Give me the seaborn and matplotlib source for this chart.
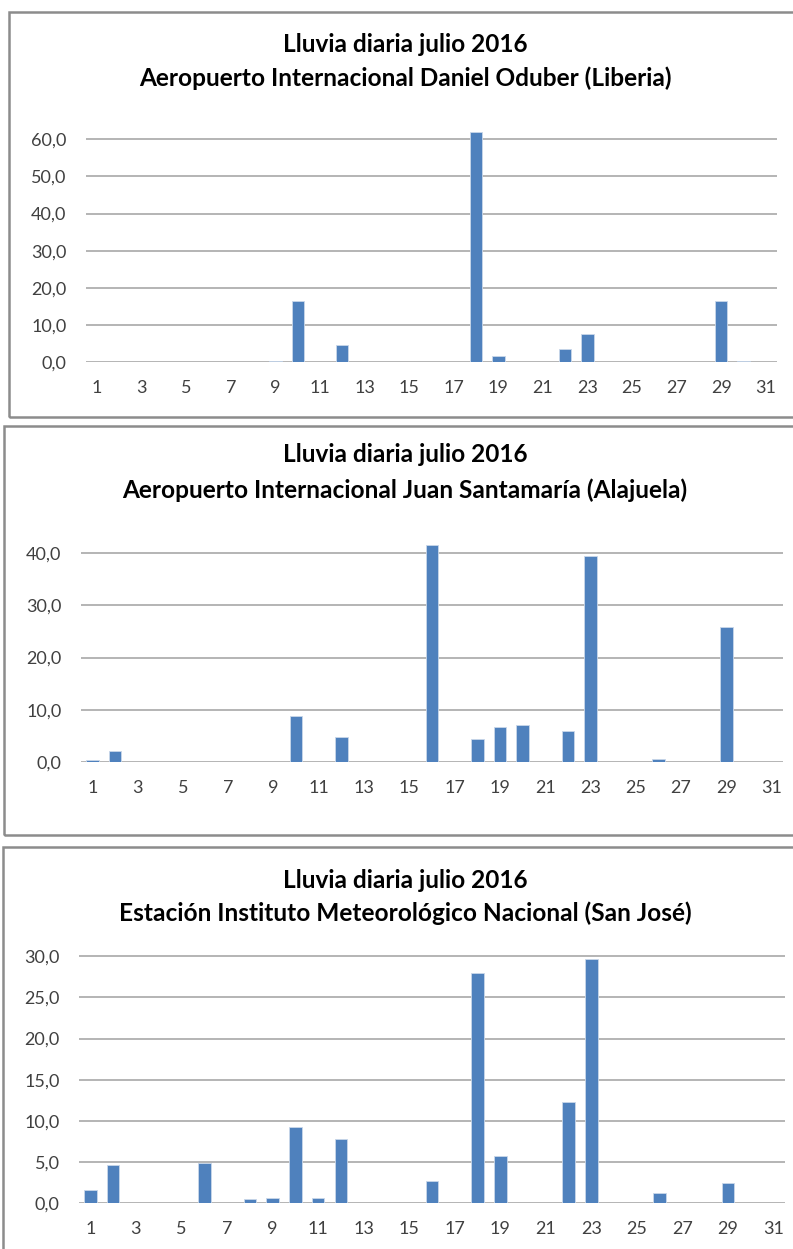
import matplotlib
matplotlib.use("Agg")
import matplotlib.pyplot as plt
import seaborn as sns
import pandas as pd
from matplotlib.patches import Rectangle

days = [str(d) for d in range(1, 32)]
odd_labels = [str(d) if d % 2 == 1 else "" for d in range(1, 32)]

liberia = [0, 0, 0, 0, 0, 0, 0, 0, 0.3, 16.6, 0, 4.6, 0, 0, 0, 0, 0, 61.8, 1.8, 0,
           0, 3.6, 7.7, 0, 0, 0, 0, 0, 16.5, 0.3, 0]
alajuela = [0.5, 2.2, 0, 0, 0, 0, 0, 0, 0, 8.8, 0, 4.8, 0, 0, 0, 41.5, 0, 4.4, 6.7, 7.2,
            0, 6.0, 39.3, 0, 0, 0.7, 0, 0, 25.8, 0, 0]
sanjose = [1.6, 4.6, 0, 0, 0, 4.9, 0, 0.5, 0.6, 9.3, 0.6, 7.8, 0, 0, 0, 2.7, 0, 28.0, 5.7, 0,
           0, 12.3, 29.7, 0, 0, 1.2, 0, 0, 2.5, 0, 0]

title_top = "Lluvia diaria julio 2016"
subtitles = ["Aeropuerto Internacional Daniel Oduber (Liberia)",
             "Aeropuerto Internacional Juan Santamaría (Alajuela)",
             "Estación Instituto Meteorológico Nacional (San José)"]
yticks_list = [[0, 10, 20, 30, 40, 50, 60], [0, 10, 20, 30, 40], [0, 5, 10, 15, 20, 25, 30]]
ylims = [63, 42, 30.5]

sns.set_theme(style="white")
plt.rcParams['font.family'] = ['Lato', 'DejaVu Sans']

W, H = 793, 1249
fig = plt.figure(figsize=(W / 100, H / 100), dpi=100)

def fx(px):
    return px / W

def fy(py):
    return 1 - py / H

# panel geometry in pixels
geom = [
    (9, 12, 417, 86, 777, 362.3, 362.3 - 63 * 3.72, 45, 78),
    (4, 426, 835, 81, 783, 762.3, 762.3 - 42 * 5.24, 455, 490),
    (3, 847, 1262, 79, 785, 1203.3, 1203.3 - 30.5 * 8.24, 880, 913),
]

BLUE = "#4F81BD"
GRID = "#a0a0a0"
TXT = "#404040"

for i, (vals, g) in enumerate(zip([liberia, alajuela, sanjose], geom)):
    bx0, by0, by1, al, ar, ab, at, t1, t2 = g
    fig.patches.append(Rectangle((fx(bx0), fy(by1)), fx(W + 20 - bx0), fy(by0) - fy(by1),
                                 transform=fig.transFigure, fill=False,
                                 edgecolor="#8c8c8c", linewidth=1.8, zorder=0))
    ax = fig.add_axes([fx(al), fy(ab), fx(ar - al), fy(at) - fy(ab)])
    df = pd.DataFrame({"dia": days, "lluvia": vals})
    sns.barplot(data=df, x="dia", y="lluvia", color=BLUE, width=0.55, ax=ax,
                saturation=1, edgecolor="#c9d7ea", linewidth=0.6, zorder=3)
    ax.set_xlim(-0.5, 30.5)
    ax.set_ylim(0, ylims[i])
    ax.set_yticks(yticks_list[i])
    ax.set_yticklabels([f"{v:.1f}".replace(".", ",") for v in yticks_list[i]])
    ax.set_xticks(range(31))
    ax.set_xticklabels(odd_labels)
    for v in yticks_list[i]:
        ax.axhline(v, color=GRID, linewidth=1.1, zorder=1)
    for s in ax.spines.values():
        s.set_visible(False)
    ax.set_xlabel("")
    ax.set_ylabel("")
    ax.tick_params(axis="both", length=0, labelsize=13, colors=TXT)
    ax.tick_params(axis="y", pad=14)
    ax.tick_params(axis="x", pad=13)
    ax.patch.set_alpha(0)
    fig.text(fx(405), fy(t1), title_top, ha="center", va="center",
             fontsize=17.6, fontweight="bold", color="#000000")
    fig.text(fx(405), fy(t2), subtitles[i], ha="center", va="center",
             fontsize=17.6, fontweight="bold", color="#000000")

fig.savefig("out.png", dpi=100)
